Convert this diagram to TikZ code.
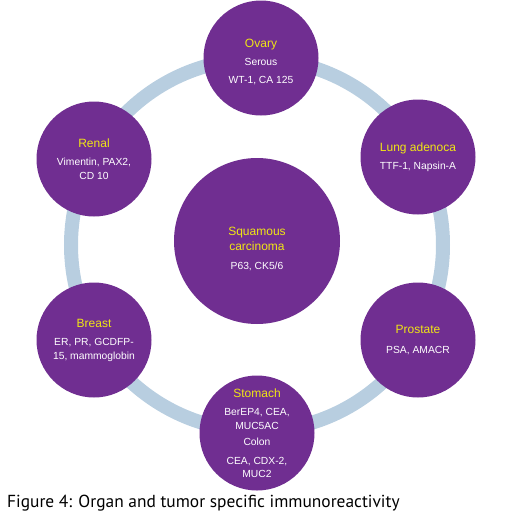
\documentclass[tikz,border=0pt]{standalone}
\usepackage{fontspec}
\setmainfont{Liberation Sans}
\newfontfamily\capfont{PT Sans}
\definecolor{orgpurple}{RGB}{112,46,145}
\definecolor{ringblue}{RGB}{184,206,224}
\definecolor{titleyellow}{RGB}{240,230,20}
\newcommand{\orgttl}[1]{\textcolor{titleyellow}{\fontsize{12}{14}\selectfont #1}}
\begin{document}
\begin{tikzpicture}[x=1pt,y=-1pt,
  organ/.style={circle, fill=orgpurple, draw=none, minimum size=115pt, inner sep=0pt,
    text=white, align=center, font=\fontsize{10.3}{13.5}\selectfont},
  bigorgan/.style={organ, minimum size=166pt},
  ring/.style={draw=ringblue, line width=14pt},
]
\useasboundingbox (0,0) rectangle (506,515);
\coordinate (hub) at (257,245);
\draw[ring] (hub) circle (186);
\node[organ] (ovary) at (261,58) {\rule{0pt}{16pt}\orgttl{Ovary}\\[5pt]Serous\\[4pt]WT-1, CA 125};
\node[organ] (lung) at (418,157) {\orgttl{Lung adenoca}\\[5pt]TTF-1, Napsin-A};
\node[organ] (renal) at (94,159) {\orgttl{Renal}\\[5pt]Vimentin, PAX2,\\CD 10};
\node[bigorgan] (squam) at (257,241) {\rule{0pt}{24pt}\orgttl{Squamous}\\[2pt]\orgttl{carcinoma}\\[5pt]P63, CK5/6};
\node[organ] (breast) at (94,340) {\orgttl{Breast}\\[5pt]ER, PR, GCDFP-\\15, mammoglobin};
\node[organ] (prostate) at (418,340) {\orgttl{Prostate}\\[6pt]PSA, AMACR};
\node[organ] (stomach) at (257,433) {\orgttl{Stomach}\\[5pt]BerEP4, CEA,\\MUC5AC\\[3pt]Colon\\[5pt]CEA, CDX-2,\\MUC2};
\node[anchor=base west, inner sep=0pt, font=\capfont\fontsize{17.4}{19}\selectfont] (caption) at (7,507) {Figure 4: Organ and tumor specific immunoreactivity};
\end{tikzpicture}
\end{document}
